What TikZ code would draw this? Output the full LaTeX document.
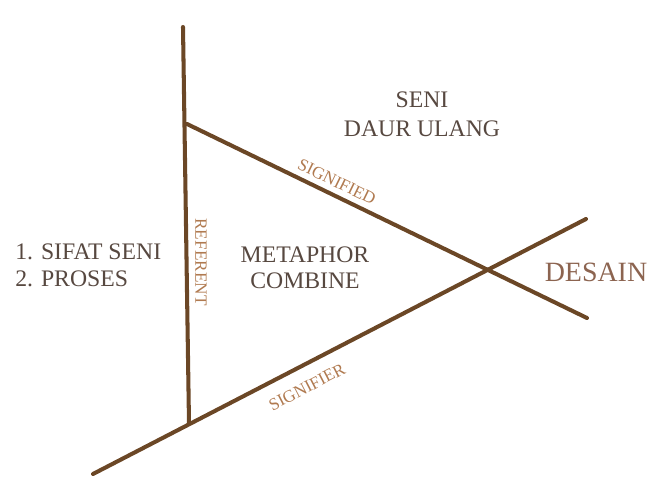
\documentclass[tikz,border=0pt]{standalone}
\usepackage{fontspec}
\setmainfont{Liberation Serif}
\usetikzlibrary{calc}
\definecolor{lineBrown}{HTML}{6B4726}
\definecolor{textGrey}{HTML}{574840}
\definecolor{tagOrange}{HTML}{B07A50}
\definecolor{desainBrown}{HTML}{8C6450}

\begin{document}
\begin{tikzpicture}[x=0.02cm, y=-0.02cm,
    axis/.style={draw=lineBrown, line width=2.3pt, line cap=round},
    big/.style={text=textGrey, font=\fontsize{13.5}{15.5}\selectfont, align=center, inner sep=0pt},
    tag/.style={text=tagOrange, font=\fontsize{9.8}{11}\selectfont, inner sep=0pt},
  ]
  \useasboundingbox (0,0) rectangle (664,482);

  % end points of the three lines
  \coordinate (reftop) at (183,27);
  \coordinate (refbot) at (189,423);
  \coordinate (sdstart) at (187,124);
  \coordinate (sdend) at (587,318);
  \coordinate (srstart) at (93,474);
  \coordinate (srend) at (586,219);

  % lines
  \draw[axis] (reftop) -- (refbot);
  \draw[axis] (sdstart) -- (sdend);
  \draw[axis] (srstart) -- (srend);

  % line labels
  \node[tag, rotate=-90] (referent) at (201,262) {REFERENT};
  \node[tag, rotate=-25.9] (signified) at (337,182) {SIGNIFIED};
  \node[tag, rotate=27.4] (signifier) at (307,387) {SIGNIFIER};

  % region texts
  \node[big, font=\fontsize{13.5}{16.5}\selectfont] (seni) at (422,114) {SENI\\DAUR ULANG};
  \node[big, font=\fontsize{13.5}{14.5}\selectfont] (metaphor) at (305,268) {METAPHOR\\COMBINE};
  \node[big, align=left, anchor=west] (sifat) at (15,265) {1. SIFAT SENI\\2. PROSES};
  \node[text=desainBrown, font=\fontsize{15.9}{18}\selectfont, inner sep=0pt]
    (desain) at (596,272) {DESAIN};
\end{tikzpicture}
\end{document}
